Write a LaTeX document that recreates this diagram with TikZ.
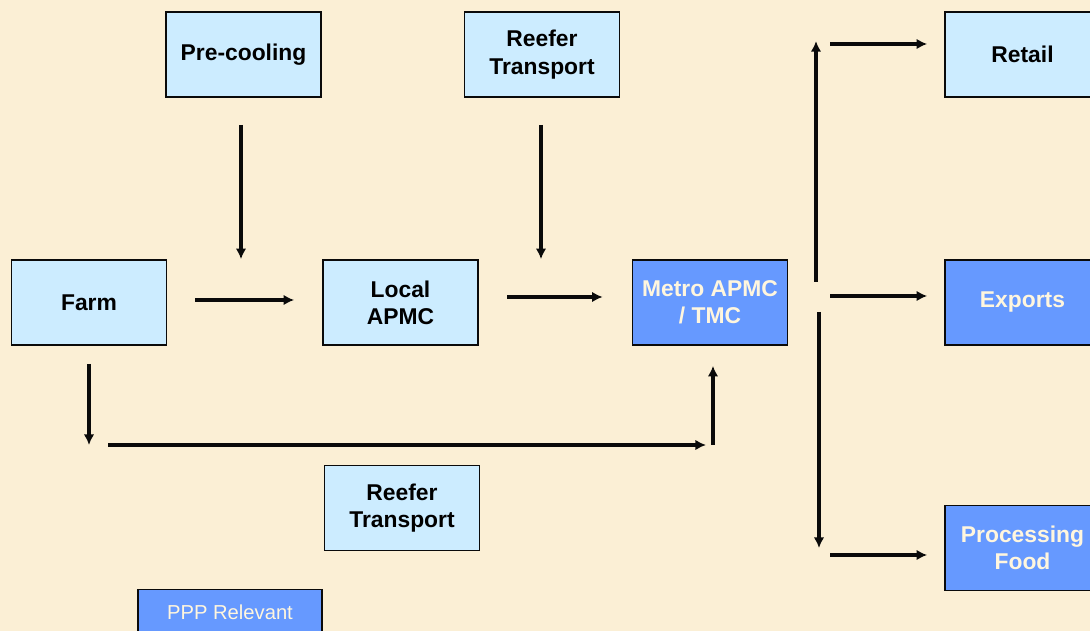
\documentclass[tikz,border=0pt]{standalone}
\usepackage{fontspec}
\setmainfont{Liberation Sans}
\usepackage{tikz}
\usetikzlibrary{arrows.meta,calc}
\definecolor{figback}{RGB}{251,239,213}
\definecolor{figlight}{RGB}{204,236,255}
\definecolor{figdark}{RGB}{102,153,255}
\definecolor{figtext}{RGB}{255,246,222}
\definecolor{figline}{RGB}{10,10,10}
\tikzset{
  boxl/.style ={draw=figline, line width=1pt, fill=figlight, minimum width=3.1cm,
                minimum height=1.7cm, align=center, font=\fontsize{13}{15.5}\selectfont\bfseries},
  boxd/.style ={boxl, fill=figdark, text=figtext},
  tag/.style  ={draw=figline, line width=1pt, fill=figdark, text=figtext,
                minimum width=3.68cm, minimum height=0.9cm, font=\fontsize{11.5}{13}\selectfont},
  arr/.style  ={draw=figline, line width=2.2pt, -{Latex[length=6pt,width=6pt]}},
}

\begin{document}
\begin{tikzpicture}[x=0.02cm,y=-0.02cm]
  \fill[figback] (0,0) rectangle (1090,631);
  \useasboundingbox (0,0) rectangle (1090,631);
  % boxes
  \node[boxl] (precool) at (243.5,54.5) {Pre-cooling};
  \node[boxl] (reefertop) at (542,54.5) {Reefer\\Transport};
  \node[boxl] (retail) at (1022.5,54.5) {Retail};
  \node[boxl] (farm) at (89,302.5) {Farm};
  \node[boxl] (local) at (400.5,302.5) {Local\\APMC};
  \node[boxd] (metro) at (710,302.5) {Metro APMC\\/ TMC};
  \node[boxd] (exports) at (1022.5,302.5) {Exports};
  \node[boxl] (reeferbot) at (402,508) {Reefer\\Transport};
  \node[boxd] (process) at (1022.5,548) {Processing\\Food};
  \node[tag] (ppp) at (230,612) {PPP Relevant};
  % arrow ends
  \coordinate (pc) at (241,125);
  \coordinate (rt) at (541,125);
  \coordinate (fa) at (195,300);
  \coordinate (la) at (507,297);
  \coordinate (fd) at (89,364);
  \coordinate (bl) at (108,445);
  \coordinate (br) at (713,445);
  \coordinate (up) at (816,282);
  \coordinate (dn) at (819,312);
  \coordinate (sr) at (830,44);
  \coordinate (se) at (830,296);
  \coordinate (sp) at (830,555);
  % arrows
  \draw[arr] (pc) -- (pc |- local.north);
  \draw[arr] (rt) -- (rt |- metro.north);
  \draw[arr] (fa) -- ($(fa -| local.west)+(-28,0)$);
  \draw[arr] (la) -- ($(la -| metro.west)+(-29,0)$);
  \draw[arr] (fd) -- ($(fd)+(0,81)$);
  \draw[arr] (bl) -- ($(bl)+(598,0)$);
  \draw[arr] (br) -- ($(br |- metro.south)+(0,20)$);
  \draw[arr] (up) -- ($(up |- retail.north)+(0,30)$);
  \draw[arr] (dn) -- ($(dn)+(0,236)$);
  \draw[arr] (sr) -- ($(sr -| retail.west)+(-17,0)$);
  \draw[arr] (se) -- ($(se -| exports.west)+(-17,0)$);
  \draw[arr] (sp) -- ($(sp -| process.west)+(-17,0)$);
\end{tikzpicture}
\end{document}
